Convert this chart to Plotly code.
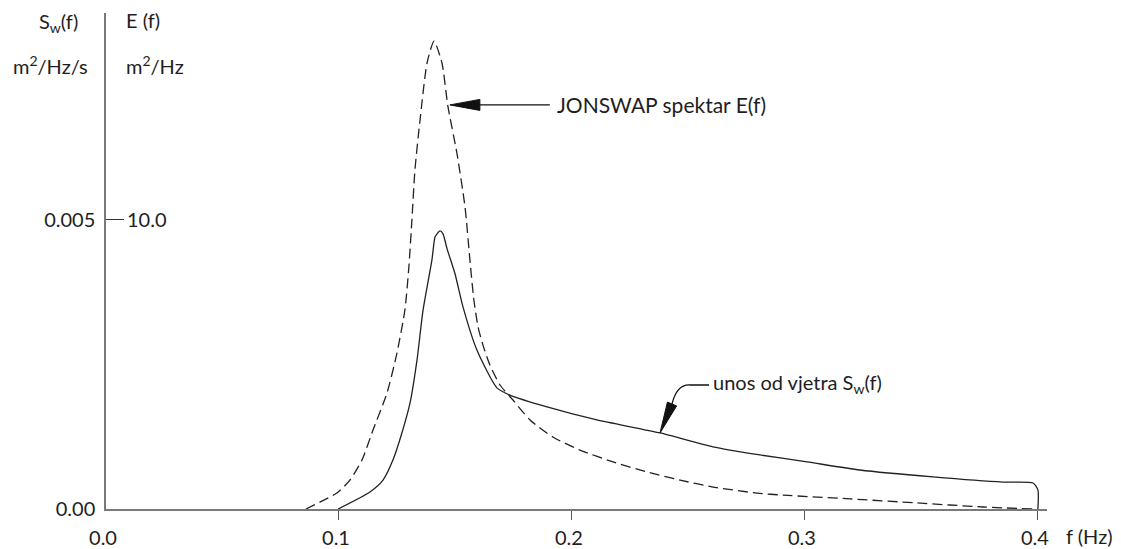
import plotly.graph_objects as go

# ---------------- data ----------------
f_jonswap = [0.0858, 0.0918, 0.0991, 0.1047, 0.1099, 0.1146, 0.1206, 0.1249, 0.1283, 0.1300,
             0.1313, 0.1326, 0.1348, 0.1378, 0.1408, 0.1442, 0.1468, 0.1506, 0.1541, 0.1562,
             0.1579, 0.1597, 0.1618, 0.1648, 0.1691, 0.1747, 0.1820, 0.1918, 0.2034, 0.2176,
             0.2322, 0.2464, 0.2605, 0.2794, 0.2906, 0.3193, 0.3481, 0.3764, 0.3979]
E_jonswap = [0.0, 0.24, 0.55, 1.00, 1.70, 2.73, 4.01, 5.40, 6.89, 8.37,
             10.0, 11.73, 13.46, 15.43, 16.19, 15.43, 13.91, 12.32, 10.45, 8.62,
             7.23, 6.30, 5.67, 4.98, 4.29, 3.77, 3.08, 2.49, 2.04, 1.63,
             1.28, 1.00, 0.76, 0.55, 0.48, 0.35, 0.21, 0.07, 0.0]

f_wind = [0.0996, 0.1133, 0.1189, 0.1232, 0.1270, 0.1305, 0.1335, 0.1361, 0.1399, 0.1412,
          0.1421, 0.1433, 0.1446, 0.1464, 0.1498, 0.1532, 0.1592, 0.1678, 0.1734, 0.1893,
          0.2107, 0.2378, 0.2605, 0.2807, 0.3009, 0.3236, 0.3549, 0.3850, 0.3979, 0.4000, 0.4000]
Sw_wind = [0.0, 0.000295, 0.0005, 0.00085, 0.001315, 0.001835, 0.00258, 0.003445, 0.00431, 0.004705,
           0.00476, 0.00481, 0.004765, 0.0045, 0.00407, 0.0035, 0.00275, 0.002095, 0.00197, 0.001765,
           0.00154, 0.001315, 0.001075, 0.000935, 0.000815, 0.000675, 0.000555, 0.000465, 0.00045, 0.00033, 0.0]

x_tickvals = [0.0, 0.1, 0.2, 0.3, 0.4]
x_ticktext = ["0.0", "0.1", "0.2", "0.3", "0.4"]
sw_tickvals = [0.0, 0.005]
sw_ticktext = ["0.00", "0.005"]
e_tickvals = [10.0]
e_ticktext = ["10.0"]

# annotation anchor points (data coords: f, E)
jonswap_tip = (0.1476, 13.98)
wind_tip = (0.2378, 2.63)

# ---------------- layout constants ----------------
# the page body has an 8px margin, so the figure is offset 8px right and down
W, H = 1113, 541
ML, MR, MT, MB = 98, 74, 5, 40
X_RANGE = [0, 0.4039]
E_RANGE = [0, 17.16]
SW_RANGE = [0, E_RANGE[1] / 2000.0]

PX_F = (W - ML - MR) / (X_RANGE[1] - X_RANGE[0])   # px per f unit
PX_E = (H - MT - MB) / (E_RANGE[1] - E_RANGE[0])   # px per E unit

FONT = "Lato"
FS = 20
TXT = "#1e1e1e"
AX = "#7a7a7a"


def off(pt, dx, dy):
    """point offset by dx px right, dy px up, in data coords"""
    return (pt[0] + dx / PX_F, pt[1] + dy / PX_E)


def path(points, close=False):
    s = "M " + " L ".join(f"{p[0]:.6f},{p[1]:.6f}" for p in points)
    return s + (" Z" if close else "")


fig = go.Figure()

fig.add_trace(go.Scatter(
    x=f_jonswap, y=E_jonswap, yaxis="y2", mode="lines",
    line=dict(color="#222222", width=1.3, dash="10px,5px", shape="spline", smoothing=0.6),
    hoverinfo="skip", showlegend=False))

fig.add_trace(go.Scatter(
    x=f_wind, y=Sw_wind, yaxis="y", mode="lines",
    line=dict(color="#222222", width=1.3, shape="spline", smoothing=0.6),
    hoverinfo="skip", showlegend=False))

shapes = []
# JONSWAP arrow
t = jonswap_tip
shapes.append(dict(type="path", xref="x", yref="y2",
                   path=path([off(t, 25, 0), off(t, 100, 0)]),
                   line=dict(color="#111", width=1.3)))
shapes.append(dict(type="path", xref="x", yref="y2",
                   path=path([t, off(t, 30, 5.5), off(t, 30, -5.5)], close=True),
                   fillcolor="#111", line=dict(color="#111", width=1)))
# wind-input arrow (curved leader)
w = wind_tip
b = off(w, 12, 29)
c = off(w, 17, 49)
e = off(w, 30, 48)
g = off(w, 49, 48)
shapes.append(dict(type="path", xref="x", yref="y2",
                   path=f"M {b[0]:.6f},{b[1]:.6f} Q {c[0]:.6f},{c[1]:.6f} {e[0]:.6f},{e[1]:.6f} L {g[0]:.6f},{g[1]:.6f}",
                   line=dict(color="#111", width=1.3)))
shapes.append(dict(type="path", xref="x", yref="y2",
                   path=path([w, off(w, 16.6, 27.1), off(w, 7.4, 30.9)], close=True),
                   fillcolor="#111", line=dict(color="#111", width=1)))

annotations = [
    dict(text="JONSWAP spektar E(f)", x=t[0], y=t[1], xref="x", yref="y2",
         xanchor="left", yanchor="middle", xshift=105, showarrow=False,
         font=dict(family=FONT, size=21, color=TXT)),
    dict(text="unos od vjetra S<sub>w</sub>(f)", x=w[0], y=w[1], xref="x", yref="y2",
         xanchor="left", yanchor="middle", xshift=51, yshift=49, showarrow=False,
         font=dict(family=FONT, size=FS, color=TXT)),
    dict(text="f (Hz)", x=0.4, y=0, xref="x", yref="y2",
         xanchor="left", yanchor="middle", xshift=26, yshift=-27, showarrow=False,
         font=dict(family=FONT, size=FS, color=TXT)),
    dict(text="S<sub>w</sub>(f)", x=0, y=1, xref="x", yref="paper",
         xanchor="center", yanchor="middle", xshift=-48, yshift=-9, showarrow=False,
         font=dict(family=FONT, size=FS, color=TXT)),
    dict(text="E (f)", x=0, y=1, xref="x", yref="paper",
         xanchor="center", yanchor="middle", xshift=37, yshift=-7, showarrow=False,
         font=dict(family=FONT, size=FS, color=TXT)),
    dict(text="m<sup>2</sup>/Hz/s", x=0, y=1, xref="x", yref="paper",
         xanchor="center", yanchor="middle", xshift=-56, yshift=-52, showarrow=False,
         font=dict(family=FONT, size=FS, color=TXT)),
    dict(text="m<sup>2</sup>/Hz", x=0, y=1, xref="x", yref="paper",
         xanchor="center", yanchor="middle", xshift=49, yshift=-52, showarrow=False,
         font=dict(family=FONT, size=FS, color=TXT)),
]

fig.update_layout(
    template="none",
    width=W, height=H,
    margin=dict(l=ML, r=MR, t=MT, b=MB, pad=0),
    paper_bgcolor="white", plot_bgcolor="white",
    font=dict(family=FONT, size=FS, color=TXT),
    showlegend=False,
    shapes=shapes,
    annotations=annotations,
    xaxis=dict(range=X_RANGE, showgrid=False, zeroline=False, automargin=False,
               showline=True, linecolor=AX, linewidth=1.5,
               tickmode="array", tickvals=x_tickvals, ticktext=x_ticktext,
               ticks="", ticklabelstandoff=10, ticklabelshift=-3,
               minor=dict(tickmode="array", tickvals=x_tickvals[1:], ticks="outside",
                          ticklen=9, tickwidth=1.3, tickcolor="#555", showgrid=False),
               tickfont=dict(family=FONT, size=FS, color=TXT)),
    yaxis=dict(range=SW_RANGE, showgrid=False, zeroline=False, automargin=False,
               showline=True, linecolor=AX, linewidth=1.5,
               tickmode="array", tickvals=sw_tickvals, ticktext=sw_ticktext,
               ticks="", ticklabelstandoff=5,
               minor=dict(tickmode="array", tickvals=sw_tickvals[1:], ticks="inside",
                          ticklen=18, tickwidth=1.3, tickcolor="#333", showgrid=False),
               tickfont=dict(family=FONT, size=FS, color=TXT)),
    yaxis2=dict(range=E_RANGE, overlaying="y", side="right", anchor="free", position=0,
                automargin=False,
                showgrid=False, zeroline=False, showline=False,
                tickmode="array", tickvals=e_tickvals, ticktext=e_ticktext,
                ticks="", ticklabelstandoff=20,
                tickfont=dict(family=FONT, size=FS, color=TXT)),
)

fig.write_html("out.html")
